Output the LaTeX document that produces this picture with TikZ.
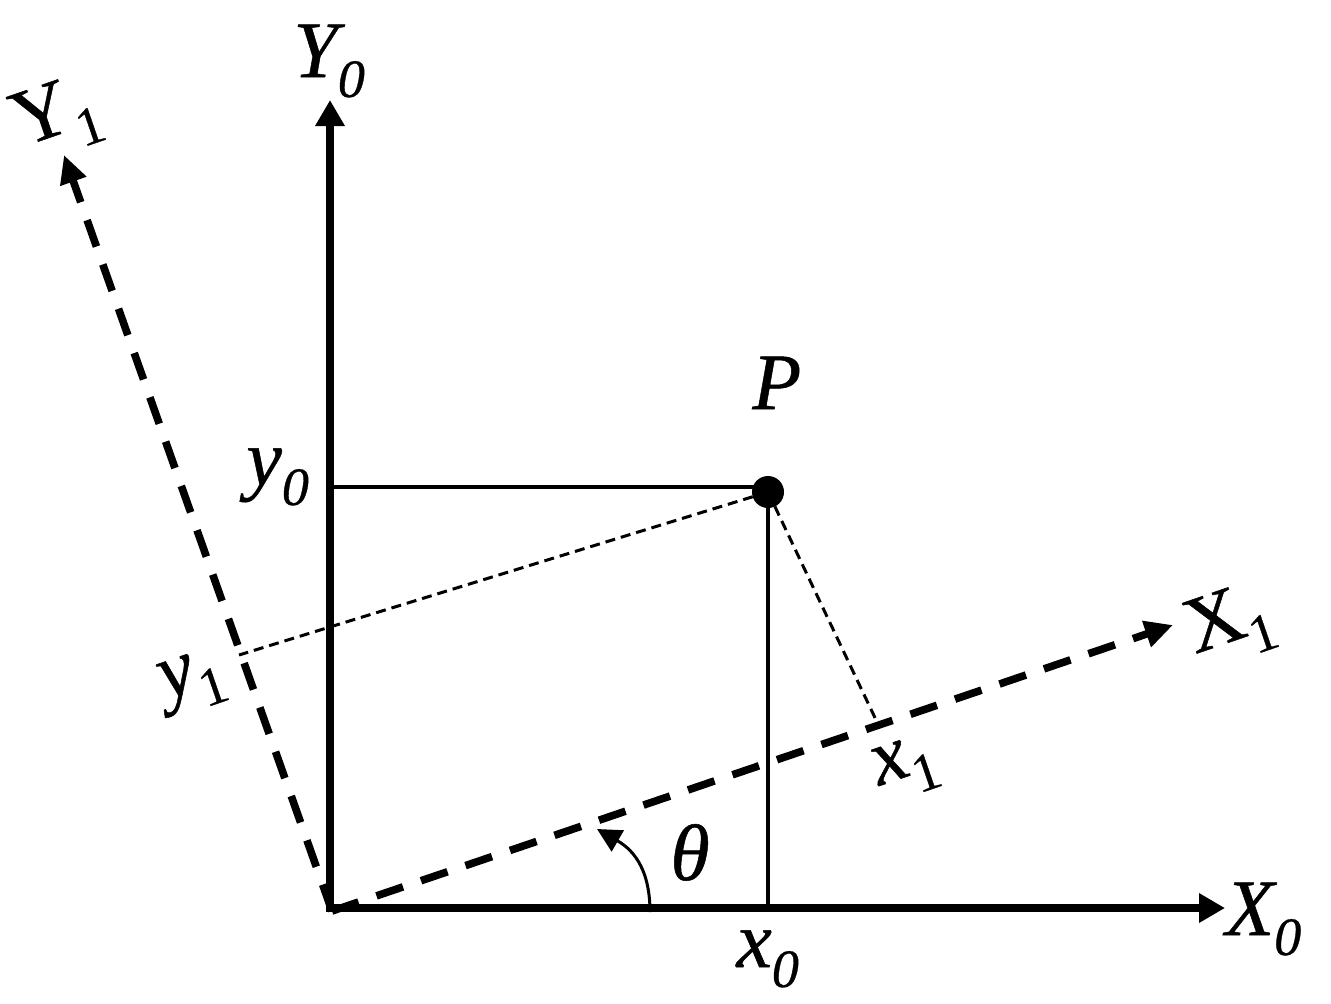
\documentclass[tikz,border=0pt]{standalone}
\usepackage{fontspec}
\setmainfont{Liberation Serif}[FakeBold=0.6]
\usetikzlibrary{arrows.meta}
\newcommand\sublab[2]{#1\raisebox{-0.25em}{\fontsize{27}{27}\selectfont #2}}
\tikzset{
  mainaxis/.style={line width=4pt, -{Triangle[length=13pt,width=14pt]}},
  rotaxis/.style={line width=3.8pt, dash pattern=on 14pt off 9.5pt, -{Triangle[length=14pt,width=13pt]}},
  guide/.style={line width=2pt},
  proj/.style={line width=1.5pt, dash pattern=on 5pt off 3pt},
  anglearc/.style={line width=1.5pt, -{Triangle[length=12pt,width=12pt]}},
  lab/.style={font=\fontsize{40}{48}\selectfont, inner sep=0pt},
  dot/.style={circle, fill=black, inner sep=0pt, minimum size=16pt}
}
\begin{document}
\begin{tikzpicture}[x=0.5pt,y=-0.5pt]
\useasboundingbox (0,0) rectangle (1331,1003);
% coordinates
\coordinate (O) at (330,910);
\coordinate (Y0tip) at (330,100);
\coordinate (X0tip) at (1225,908);
\coordinate (Xs) at (326,908);
\coordinate (D0) at (332,911);
\coordinate (X1tip) at (1173,625);
\coordinate (Y1tip) at (64,155);
\coordinate (x1pt) at (877,722);
\coordinate (y1pt) at (239,655);
\coordinate (y0pt) at (330,487);
\coordinate (Ph) at (768,487);
\coordinate (x0pt) at (768,908);
\coordinate (arcS) at (650,912);
\coordinate (arcE) at (597,829);
% point P
\node[dot] (P) at (768,492) {};
% guide lines
\draw[guide] (y0pt) -- (Ph);
\draw[guide] (P.center) -- (x0pt);
\draw[proj] (P.center) -- (y1pt);
\draw[proj] (P.center) -- (x1pt);
% axes
\draw[mainaxis] (O) -- (Y0tip);
\draw[mainaxis] (Xs) -- (X0tip);
\draw[rotaxis] (D0) -- (X1tip);
\draw[rotaxis] (D0) -- (Y1tip);
% angle
\draw[anglearc] (arcS) .. controls (650,865) and (630,848) .. (arcE);
% labels
\node[lab, anchor=base west] (lY0) at (293,77) {\itshape\sublab{Y}{0}};
\node[lab, anchor=base west] (lX0) at (1225,935) {\itshape\sublab{X}{0}};
\node[lab, anchor=base west] (lx0) at (736,967) {\itshape\sublab{x}{0}};
\node[lab, anchor=base west] (ly0) at (246,485) {\itshape\sublab{y}{0}};
\node[lab, anchor=base west] (lP) at (752,409) {\itshape P};
\node[lab, anchor=base west] (lth) at (670,880) {\itshape θ};
\node[lab, rotate=19] (lY1) at (57,118) {\sublab{Y}{1}};
\node[lab, rotate=19] (lX1) at (1230,625) {\sublab{X}{1}};
\node[lab, rotate=19] (lx1) at (906,768) {\sublab{\textit{x}}{1}};
\node[lab, rotate=19] (ly1) at (193,682) {\sublab{\textit{y}}{1}};
\end{tikzpicture}
\end{document}
